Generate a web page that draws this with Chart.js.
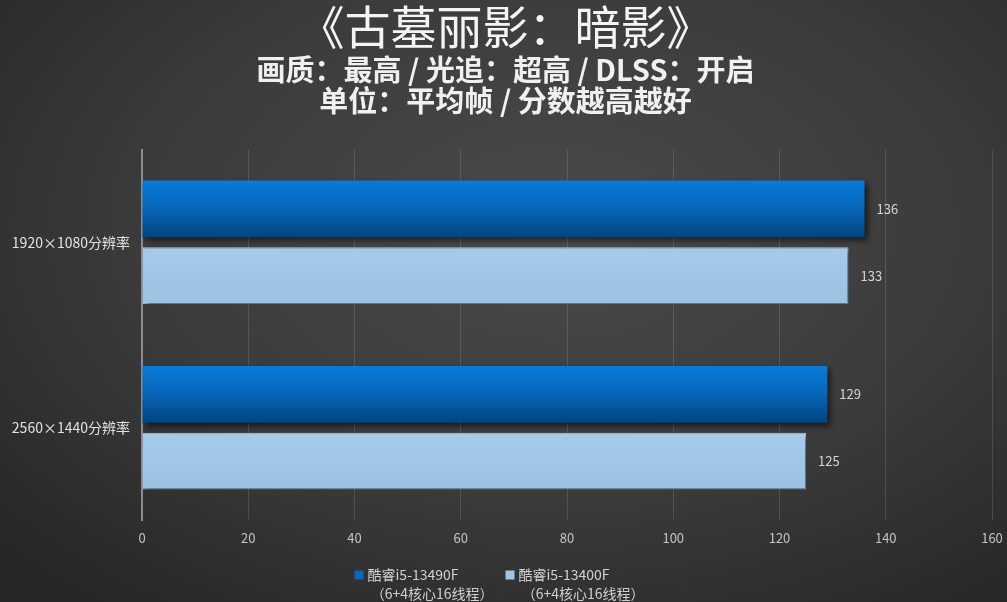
<!DOCTYPE html>
<html>
<head>
<meta charset="utf-8">
<script src="https://cdn.jsdelivr.net/npm/chart.js@4"></script>
<style>
  html, body { margin: 0; padding: 0; }
  body {
    width: 1007px; height: 602px; overflow: hidden;
    background: radial-gradient(ellipse 75% 80% at 55% 38%, #4a4a4a 0%, #3b3b3b 55%, #262626 100%);
  }
  #wrap { position: relative; width: 1007px; height: 602px; }
</style>
</head>
<body>
<div id="wrap"><canvas id="chart"></canvas></div>
<script>
const categories = ['1920×1080分辨率', '2560×1440分辨率'];
const fps13490F = [136, 129];
const fps13400F = [133, 125];
const seriesNames = [
    ['酷睿i5-13490F', ' （6+4核心16线程）'],
    ['酷睿i5-13400F', ' （6+4核心16线程）']
];
const seriesColors = ['#0767bb', '#9fc5e8'];
const xMin = 0, xMax = 160, xStep = 20;

const FONT = '"Noto Sans CJK SC", "Noto Sans", sans-serif';

// bar gradients + shadow, set per element once positions are known
const barLook = {
    id: 'barLook',
    beforeDatasetsDraw(chart) {
        const ctx = chart.ctx;
        chart.data.datasets.forEach((ds, i) => {
            chart.getDatasetMeta(i).data.forEach(el => {
                const top = el.y - el.height / 2, bottom = el.y + el.height / 2;
                const g = ctx.createLinearGradient(0, top, 0, bottom);
                if (i === 0) {
                    g.addColorStop(0, '#0a7ad8');
                    g.addColorStop(0.45, '#0768bd');
                    g.addColorStop(1, '#03447f');
                } else {
                    g.addColorStop(0, '#a6caea');
                    g.addColorStop(1, '#9bc1e4');
                }
                el.options = Object.assign({}, el.options, { backgroundColor: g });
            });
        });
        ctx.save();
        ctx.shadowColor = 'rgba(0,0,0,0.6)';
        ctx.shadowBlur = 6;
        ctx.shadowOffsetX = 3;
        ctx.shadowOffsetY = 3;
    },
    afterDatasetsDraw(chart) {
        const ctx = chart.ctx;
        ctx.restore();
        ctx.save();
        ctx.font = '13px ' + FONT;
        ctx.fillStyle = '#d6d6d6';
        ctx.textBaseline = 'middle';
        ctx.textAlign = 'left';
        chart.data.datasets.forEach((ds, i) => {
            chart.getDatasetMeta(i).data.forEach((el, j) => {
                ctx.fillText(String(ds.data[j]), el.x + 12, el.y);
            });
        });
        ctx.restore();
    }
};

// two-line legend under the axis
const twoLineLegend = {
    id: 'twoLineLegend',
    afterDraw(chart) {
        const ctx = chart.ctx;
        ctx.save();
        ctx.font = '14px ' + FONT;
        ctx.textBaseline = 'middle';
        const box = 9, gapBox = 4, gapItem = 12;
        const widths = seriesNames.map(lines =>
            box + gapBox + Math.max(...lines.map(t => ctx.measureText(t).width)));
        const total = widths.reduce((a, b) => a + b, 0) + gapItem * (widths.length - 1);
        let x = (chart.width - total) / 2 - 4;
        const y1 = chart.height - 27, y2 = chart.height - 8;
        seriesNames.forEach((lines, i) => {
            ctx.fillStyle = seriesColors[i];
            ctx.fillRect(x, y1 - box / 2, box, box);
            ctx.fillStyle = '#d0d0d0';
            ctx.fillText(lines[0], x + box + gapBox, y1);
            ctx.fillText(lines[1], x + box + gapBox, y2);
            x += widths[i] + gapItem;
        });
        ctx.restore();
    }
};

new Chart(document.getElementById('chart'), {
    type: 'bar',
    data: {
        labels: categories,
        datasets: [{
            label: seriesNames[0].join(' '),
            data: fps13490F,
            backgroundColor: seriesColors[0],
            borderWidth: 0,
            barPercentage: 0.85,
            categoryPercentage: 0.72
        }, {
            label: seriesNames[1].join(' '),
            data: fps13400F,
            backgroundColor: seriesColors[1],
            borderColor: '#b9d7f0',
            borderWidth: 1,
            barPercentage: 0.85,
            categoryPercentage: 0.72
        }]
    },
    plugins: [barLook, twoLineLegend],
    options: {
        indexAxis: 'y',
        responsive: true,
        maintainAspectRatio: false,
        animation: false,
        layout: { padding: { left: 4, right: 0, top: 0, bottom: 46 } },
        scales: {
            x: {
                min: xMin,
                max: xMax,
                afterFit(scale) { scale.paddingRight = 15; },
                ticks: {
                    stepSize: xStep,
                    color: '#c4c4c4',
                    font: { family: FONT, size: 13 },
                    padding: 10
                },
                grid: { color: 'rgba(255,255,255,0.13)', drawTicks: false },
                border: { display: false }
            },
            y: {
                afterFit(scale) { scale.width = 138; },
                ticks: {
                    color: '#e2e2e2',
                    font: { family: FONT, size: 14 },
                    padding: 4
                },
                grid: { display: false },
                border: { color: '#8c8c8c', width: 2 }
            }
        },
        plugins: {
            title: {
                display: true,
                text: '《古墓丽影：暗影》',
                color: '#f4f4f4',
                font: { family: FONT, size: 46, weight: 'normal', lineHeight: 1.1 },
                padding: { top: 1, bottom: 0 }
            },
            subtitle: {
                display: true,
                text: ['画质：最高 / 光追：超高 / DLSS：开启', '单位：平均帧 / 分数越高越好'],
                color: '#f0f0f0',
                font: { family: FONT, size: 29, weight: 'bold', lineHeight: 1.07 },
                padding: { top: 3, bottom: 33 }
            },
            legend: { display: false },
            tooltip: { enabled: false }
        }
    }
});
</script>
</body>
</html>
